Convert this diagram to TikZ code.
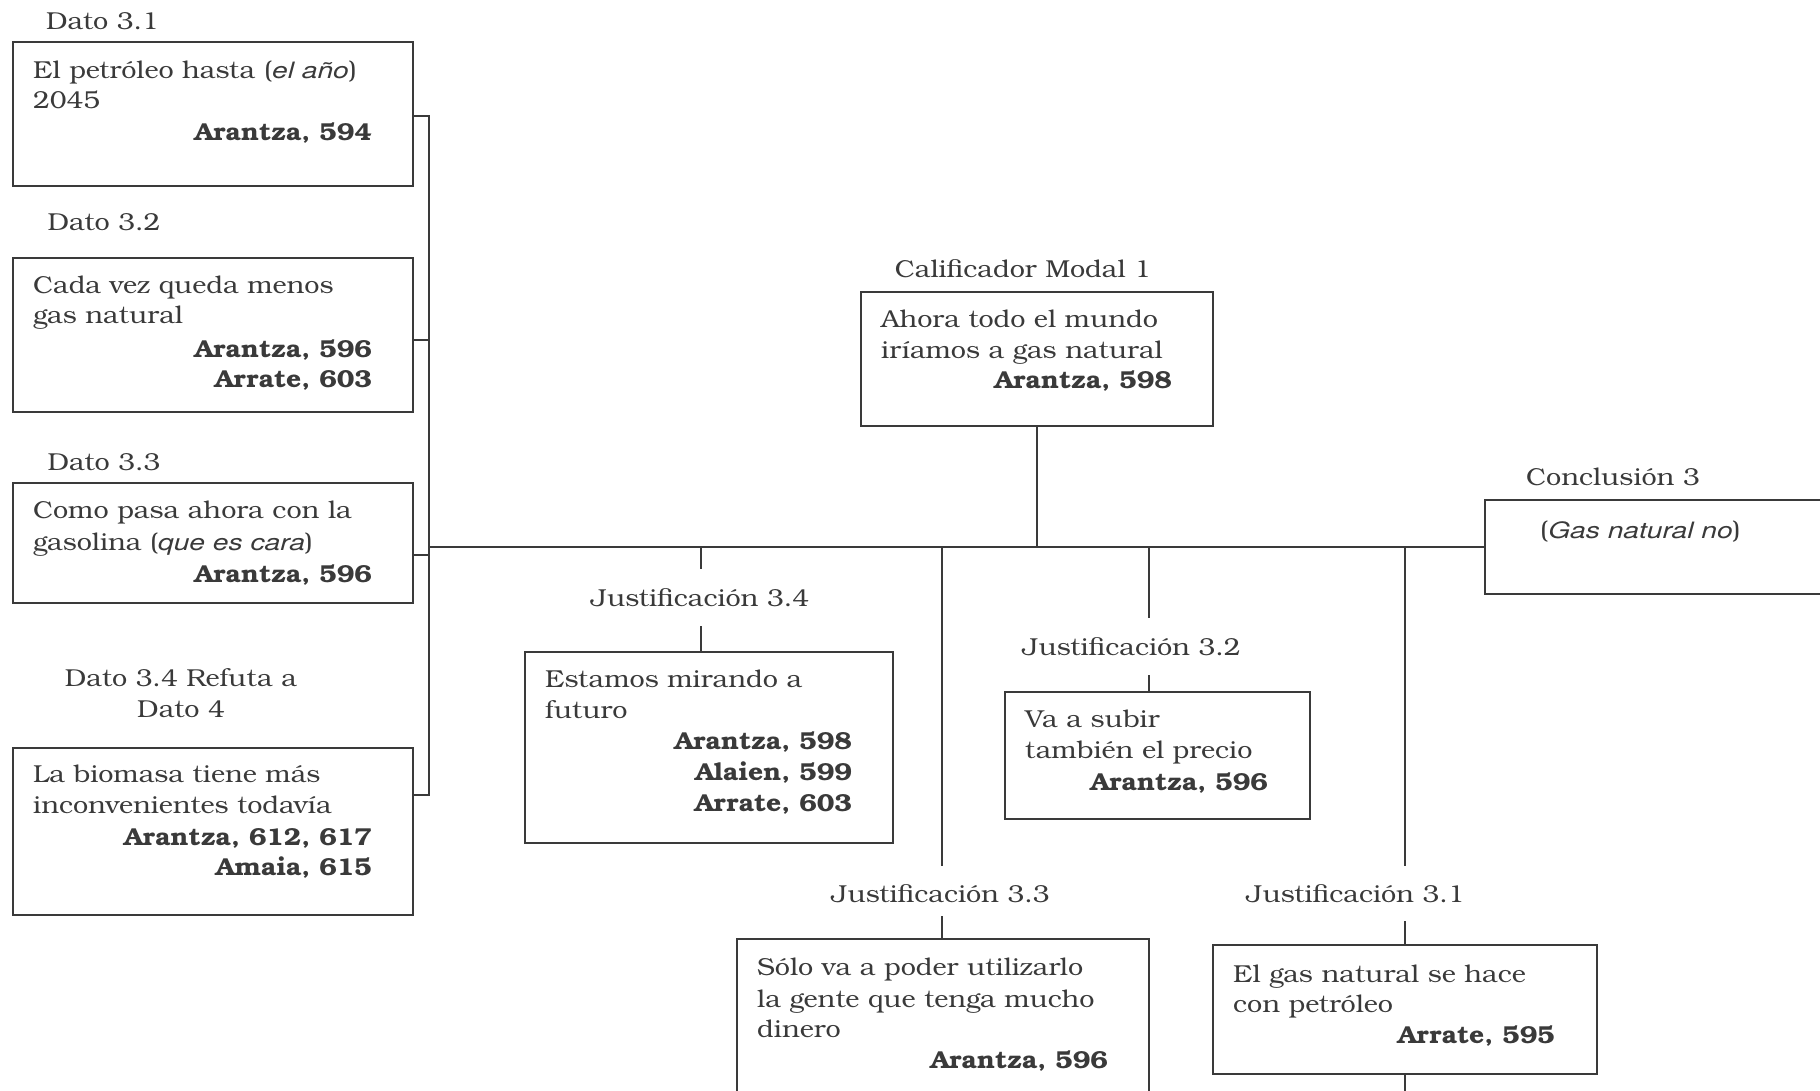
\documentclass[tikz,border=0pt]{standalone}
\usepackage{fontspec}
\setmainfont{texgyrebonum}[Extension=.otf, UprightFont=*-regular, BoldFont=*-bold, ItalicFont=*-italic, BoldItalicFont=*-bolditalic,
  UprightFeatures={FakeStretch=1.1}, ItalicFeatures={FakeStretch=1.1}, BoldFeatures={FakeStretch=1.08}]
\newfontfamily\oblfont{TeX Gyre Heros}[Scale=0.92, FakeStretch=1.25]
\newcommand\obl[1]{{\oblfont\itshape #1}}
\definecolor{ink}{HTML}{3A3A3A}
\begin{document}
\begin{tikzpicture}[x=1pt, y=-1pt,
  every node/.style={text=ink, font=\fontsize{24.5}{30}\selectfont},
  box/.style={draw=ink, line width=1.8pt, rectangle, inner sep=0pt},
  wire/.style={draw=ink, line width=1.8pt},
  lbl/.style={anchor=base, inner sep=0pt},
  tx/.style={anchor=base west, inner sep=0pt},
  rf/.style={anchor=base east, inner sep=0pt, font=\fontsize{24.5}{30}\selectfont\bfseries}]
\useasboundingbox (0,0) rectangle (1820,1090);

% ---------- boxes ----------
\node[box, minimum width=400, minimum height=144] (b1) at (213,114) {};
\node[box, minimum width=400, minimum height=154] (b2) at (213,335) {};
\node[box, minimum width=400, minimum height=120] (b3) at (213,543) {};
\node[box, minimum width=400, minimum height=167] (b4) at (213,831.5) {};
\node[box, minimum width=352, minimum height=134] (cm) at (1037,359) {};
\node[box, minimum width=365, minimum height=94] (conc) at (1667.5,547) {};
\node[box, minimum width=368, minimum height=191] (j34) at (709,747.5) {};
\node[box, minimum width=412, minimum height=181] (j33) at (943,1029.5) {};
\node[box, minimum width=305, minimum height=127] (j32) at (1157.5,755.5) {};
\node[box, minimum width=384, minimum height=129] (j31) at (1405,1009.5) {};

% ---------- labels ----------
\node[lbl] (l31) at (102.5,29) {Dato 3.1};
\node[lbl] (l32) at (104,230) {Dato 3.2};
\node[lbl] (l33) at (104,470) {Dato 3.3};
\node[lbl] (l34a) at (181,686) {Dato 3.4 Refuta a};
\node[lbl] (l34b) at (181,717) {Dato 4};
\node[lbl] (lcm) at (1023,277) {Calificador Modal 1};
\node[lbl] (lconc) at (1613,485) {Conclusión 3};
\node[lbl] (lj34) at (700,606) {Justificación 3.4};
\node[lbl] (lj32) at (1131.5,655) {Justificación 3.2};
\node[lbl] (lj33) at (940.5,902) {Justificación 3.3};
\node[lbl] (lj31) at (1355.5,902) {Justificación 3.1};

% ---------- box texts ----------
\node[tx] (t1a) at (33,78) {El petróleo hasta (\obl{el año})};
\node[tx] (t1b) at (33,108) {2045};
\node[rf] (r1a) at (372,140) {Arantza, 594};

\node[tx] (t2a) at (33,293) {Cada vez queda menos};
\node[tx] (t2b) at (33,323) {gas natural};
\node[rf] (r2a) at (372,357) {Arantza, 596};
\node[rf] (r2b) at (372,387) {Arrate, 603};

\node[tx] (t3a) at (33,518) {Como pasa ahora con la};
\node[tx] (t3b) at (33,550) {gasolina (\obl{que es cara})};
\node[rf] (r3a) at (372,582) {Arantza, 596};

\node[tx] (t4a) at (33,782) {La biomasa tiene más};
\node[tx] (t4b) at (33,813) {inconvenientes todavía};
\node[rf] (r4a) at (372,845) {Arantza, 612, 617};
\node[rf] (r4b) at (372,875) {Amaia, 615};

\node[tx] (tca) at (881,327) {Ahora todo el mundo};
\node[tx] (tcb) at (881,358) {iríamos a gas natural};
\node[rf] (rca) at (1172,388) {Arantza, 598};

\node[tx] (tco) at (1540,538) {(\obl{Gas natural no})};

\node[tx] (t34a) at (545,687) {Estamos mirando a};
\node[tx] (t34b) at (545,718) {futuro};
\node[rf] (r34a) at (852,749) {Arantza, 598};
\node[rf] (r34b) at (852,780) {Alaien, 599};
\node[rf] (r34c) at (852,811) {Arrate, 603};

\node[tx] (t32a) at (1025,727) {Va a subir};
\node[tx] (t32b) at (1025,758) {también el precio};
\node[rf] (r32a) at (1268,790) {Arantza, 596};

\node[tx] (t33a) at (757,975) {Sólo va a poder utilizarlo};
\node[tx] (t33b) at (757,1007) {la gente que tenga mucho};
\node[tx] (t33c) at (757,1037) {dinero};
\node[rf] (r33a) at (1108,1068) {Arantza, 596};

\node[tx] (t31a) at (1233,982) {El gas natural se hace};
\node[tx] (t31b) at (1233,1012) {con petróleo};
\node[rf] (r31a) at (1555,1043) {Arrate, 595};

% ---------- connectors ----------
\coordinate (k1) at (429,116);
\coordinate (k2) at (429,340);
\coordinate (k3) at (429,555);
\coordinate (k4) at (429,795);
\coordinate (km) at (429,547);
\coordinate (d34) at (701,547);
\coordinate (d33) at (942,547);
\coordinate (d32) at (1149,547);
\coordinate (d31) at (1405,547);

\draw[wire] (b1.east |- k1) -- (k1) -- (k4) -- (b4.east |- k4);
\draw[wire] (b2.east |- k2) -- (k2);
\draw[wire] (b3.east |- k3) -- (k3);
\draw[wire] (km) -- (conc.west);
\draw[wire] (cm.south) -- (cm.south |- km);

\draw[wire] (d34) -- ++(0,22);
\draw[wire] (j34.north -| d34) -- ++(0,-25);
\draw[wire] (d33) -- ++(0,319);
\draw[wire] (j33.north -| d33) -- ++(0,-22);
\draw[wire] (d32) -- ++(0,71);
\draw[wire] (j32.north -| d32) -- ++(0,-16);
\draw[wire] (d31) -- ++(0,319);
\draw[wire] (j31.north -| d31) -- ++(0,-23);
\draw[wire] (j31.south -| d31) -- ++(0,20);
\end{tikzpicture}
\end{document}
